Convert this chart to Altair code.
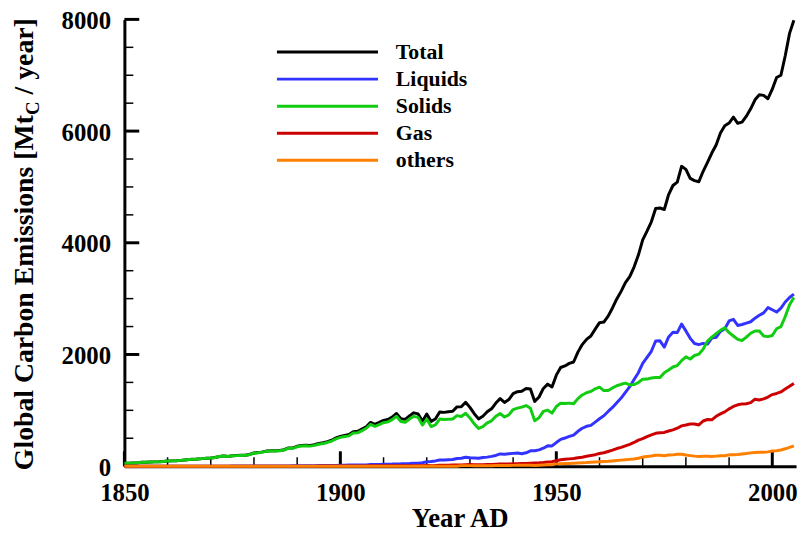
import altair as alt
import pandas as pd

years = list(range(1850, 2006))

total = [
    54, 54, 57, 59, 69, 71, 76, 77, 78, 83,
    91, 95, 97, 104, 112, 119, 122, 130, 135, 142,
    147, 156, 173, 184, 174, 188, 191, 194, 196, 210,
    236, 243, 256, 272, 275, 277, 281, 295, 327, 327,
    356, 372, 374, 370, 383, 406, 419, 440, 465, 507,
    534, 552, 566, 617, 624, 663, 707, 784, 750, 785,
    819, 836, 879, 943, 850, 838, 901, 955, 936, 806,
    932, 803, 845, 970, 963, 975, 983, 1062, 1065, 1145,
    1053, 940, 847, 893, 973, 1027, 1130, 1209, 1142, 1192,
    1299, 1334, 1342, 1391, 1383, 1160, 1238, 1392, 1469, 1419,
    1630, 1767, 1795, 1841, 1865, 2042, 2177, 2270, 2330, 2454,
    2569, 2580, 2686, 2833, 2995, 3130, 3288, 3393, 3566, 3780,
    4053, 4208, 4376, 4614, 4623, 4596, 4864, 5026, 5087, 5369,
    5315, 5152, 5113, 5094, 5280, 5439, 5607, 5752, 5965, 6097,
    6144, 6250, 6140, 6160, 6266, 6398, 6560, 6650, 6640, 6580,
    6750, 6960, 7000, 7350, 7750, 7985,
]

liquids = [
    0, 0, 0, 0, 0, 0, 0, 0, 0, 0,
    0, 0, 0, 0, 0, 0, 0, 0, 0, 0,
    1, 1, 1, 1, 1, 2, 2, 2, 2, 3,
    3, 4, 4, 3, 4, 4, 5, 5, 5, 6,
    8, 9, 9, 10, 9, 11, 12, 13, 13, 14,
    16, 18, 19, 20, 23, 23, 23, 28, 30, 32,
    34, 36, 37, 41, 42, 45, 48, 54, 53, 61,
    78, 84, 94, 111, 110, 116, 119, 136, 143, 160,
    152, 147, 141, 154, 162, 176, 192, 219, 214, 222,
    229, 236, 222, 239, 275, 275, 292, 322, 364, 362,
    423, 479, 504, 533, 557, 625, 679, 714, 731, 789,
    849, 904, 980, 1052, 1137, 1219, 1323, 1423, 1551, 1673,
    1839, 1947, 2057, 2241, 2245, 2132, 2314, 2398, 2392, 2544,
    2422, 2289, 2196, 2176, 2199, 2186, 2293, 2306, 2412, 2459,
    2600, 2630, 2520, 2537, 2562, 2586, 2650, 2701, 2745, 2840,
    2800, 2760, 2830, 2940, 3020, 3080,
]

solids = [
    54, 54, 57, 59, 69, 71, 76, 77, 78, 83,
    91, 95, 97, 104, 112, 119, 122, 130, 135, 142,
    146, 155, 172, 183, 173, 186, 189, 192, 194, 207,
    233, 239, 252, 269, 271, 272, 275, 289, 321, 320,
    347, 362, 364, 359, 373, 393, 405, 425, 450, 490,
    515, 530, 543, 593, 597, 635, 679, 750, 714, 746,
    778, 793, 834, 894, 800, 785, 844, 892, 874, 736,
    843, 709, 740, 844, 837, 842, 844, 905, 889, 948,
    863, 758, 675, 707, 775, 812, 893, 941, 880, 919,
    1014, 1039, 1057, 1086, 1039, 814, 868, 982, 1004, 950,
    1069, 1128, 1121, 1129, 1118, 1210, 1275, 1314, 1338, 1386,
    1415, 1354, 1356, 1401, 1440, 1466, 1486, 1456, 1461, 1498,
    1558, 1559, 1578, 1589, 1586, 1673, 1721, 1776, 1802, 1890,
    1957, 1919, 1982, 2005, 2096, 2240, 2310, 2373, 2432, 2479,
    2390, 2330, 2270, 2250, 2310, 2380, 2420, 2420, 2330, 2320,
    2340, 2460, 2500, 2680, 2890, 3020,
]

gas = [
    0, 0, 0, 0, 0, 0, 0, 0, 0, 0,
    0, 0, 0, 0, 0, 0, 0, 0, 0, 0,
    0, 0, 0, 0, 0, 0, 0, 0, 0, 0,
    0, 0, 0, 0, 0, 1, 1, 1, 1, 1,
    1, 1, 1, 1, 1, 2, 2, 2, 2, 3,
    3, 4, 4, 4, 4, 5, 5, 6, 6, 7,
    7, 7, 8, 8, 8, 8, 9, 9, 9, 9,
    11, 10, 11, 15, 16, 17, 20, 21, 23, 27,
    28, 25, 24, 25, 28, 30, 34, 38, 37, 38,
    42, 44, 47, 50, 54, 59, 61, 67, 76, 81,
    97, 115, 124, 131, 138, 150, 161, 178, 192, 206,
    227, 240, 263, 286, 316, 337, 364, 392, 424, 467,
    493, 530, 560, 588, 597, 604, 630, 650, 680, 721,
    737, 755, 755, 738, 809, 836, 830, 893, 936, 972,
    1026, 1069, 1099, 1115, 1119, 1137, 1199, 1186, 1206, 1238,
    1282, 1302, 1330, 1381, 1430, 1482,
]

others = [
    0, 0, 0, 0, 0, 0, 0, 0, 0, 0,
    0, 0, 0, 0, 0, 0, 0, 0, 0, 0,
    0, 0, 0, 0, 0, 0, 0, 0, 0, 0,
    0, 0, 0, 0, 0, 0, 0, 0, 0, 0,
    0, 0, 0, 0, 0, 0, 0, 0, 0, 0,
    0, 0, 0, 0, 0, 0, 0, 0, 0, 0,
    0, 0, 0, 0, 0, 0, 0, 0, 0, 0,
    0, 0, 0, 0, 0, 0, 0, 0, 10, 10,
    10, 8, 7, 7, 8, 9, 11, 11, 12, 13,
    14, 15, 16, 16, 15, 12, 17, 21, 25, 26,
    41, 45, 46, 48, 52, 57, 62, 64, 69, 73,
    78, 82, 87, 94, 102, 108, 115, 122, 130, 142,
    163, 172, 181, 196, 195, 187, 199, 202, 213, 214,
    199, 189, 180, 175, 176, 177, 174, 180, 185, 187,
    203, 205, 208, 218, 226, 238, 244, 249, 251, 256,
    271, 277, 290, 311, 336, 365,
]

series_names = ["Total", "Liquids", "Solids", "Gas", "others"]
series_values = [total, liquids, solids, gas, others]
series_colors = ["#000000", "#3333ff", "#11cc11", "#cc0000", "#ff8000"]

x_major = [1850, 1900, 1950, 2000]
x_minor = [1860, 1870, 1880, 1890, 1910, 1920, 1930, 1940, 1960, 1970, 1980, 1990]
y_major = [0, 2000, 4000, 6000, 8000]
y_minor = [500, 1000, 1500, 2500, 3000, 3500, 4500, 5000, 5500, 6500, 7000, 7500]

for s in series_values:
    assert len(s) == len(years), len(s)

FONT = "Liberation Serif"
W, H = 678, 451

xscale = alt.Scale(domain=[1850, 2005.5], nice=False, zero=False)
yscale = alt.Scale(domain=[0, 8000], nice=False)

xaxis = alt.Axis(values=x_major, format="d", title=None, grid=False, ticks=False, tickSize=0,
                 labelFont=FONT, labelFontWeight="bold", labelFontSize=25, labelColor="black",
                 labelPadding=15, labelFlush=False, labelOverlap=False,
                 domainColor="black", domainWidth=3)
yaxis = alt.Axis(values=y_major, format="d", title=None, grid=False, ticks=False, tickSize=0,
                 labelFont=FONT, labelFontWeight="bold", labelFontSize=25, labelColor="black",
                 labelPadding=14, labelOffset=1, labelFlush=False, labelOverlap=False,
                 domainColor="black", domainWidth=3)

layers = []

# inward ticks (drawn first, under the data lines)
xmaj = alt.Chart(pd.DataFrame({"year": x_major})).mark_rule(color="black", strokeWidth=3).encode(
    x=alt.X("year:Q", scale=xscale, axis=xaxis), y=alt.value(H), y2=alt.value(H - 15))
xmin = alt.Chart(pd.DataFrame({"year": x_minor})).mark_rule(color="black", strokeWidth=1.5).encode(
    x=alt.X("year:Q", scale=xscale, axis=xaxis), y=alt.value(H), y2=alt.value(H - 9))
ymaj = alt.Chart(pd.DataFrame({"value": y_major})).mark_rule(color="black", strokeWidth=3).encode(
    y=alt.Y("value:Q", scale=yscale, axis=yaxis), x=alt.value(0), x2=alt.value(15))
ymin = alt.Chart(pd.DataFrame({"value": y_minor})).mark_rule(color="black", strokeWidth=1.5).encode(
    y=alt.Y("value:Q", scale=yscale, axis=yaxis), x=alt.value(0), x2=alt.value(9))
layers += [xmaj, xmin, ymaj, ymin]

for name, vals, col in zip(series_names, series_values, series_colors):
    df = pd.DataFrame({"year": years, "value": vals})
    layers.append(
        alt.Chart(df).mark_line(color=col, strokeWidth=3, strokeJoin="round").encode(
            x=alt.X("year:Q", scale=xscale, axis=xaxis),
            y=alt.Y("value:Q", scale=yscale, axis=yaxis),
        )
    )

# legend
for i, (name, col) in enumerate(zip(series_names, series_colors)):
    ly = 33 + i * 27.3
    one = pd.DataFrame({"t": [name]})
    layers.append(alt.Chart(one).mark_rule(color=col, strokeWidth=3).encode(
        x=alt.value(154), x2=alt.value(256), y=alt.value(ly)))
    layers.append(alt.Chart(one).mark_text(font=FONT, fontWeight="bold", fontSize=22, color="black",
                                           align="left", baseline="alphabetic").encode(
        text="t:N", x=alt.value(274), y=alt.value(ly + 7)))

# axis titles
layers.append(alt.Chart(pd.DataFrame({"t": ["Year AD"]})).mark_text(
    font=FONT, fontWeight="bold", fontSize=27, color="black", align="center", baseline="alphabetic").encode(
    text="t:N", x=alt.value(W / 2), y=alt.value(512)))

ytitle_parts = [("Global Carbon Emissions [Mt", 28, -92, 455),
                ("C", 19, -86, 96.4),
                ("/ year]", 28, -92, 75.7)]
for txt, fs, xx, yy in ytitle_parts:
    layers.append(alt.Chart(pd.DataFrame({"t": [txt]})).mark_text(
        font=FONT, fontWeight="bold", fontSize=fs, color="black", align="left",
        baseline="alphabetic", angle=270).encode(
        text="t:N", x=alt.value(xx), y=alt.value(yy)))

chart = alt.layer(*layers).properties(
    width=W, height=H,
    autosize=alt.AutoSizeParams(type="none"),
    padding={"left": 117.5, "top": 9, "right": 4, "bottom": 70},
    background="white",
).configure_view(stroke=None)

chart.save("out.html", embed_options={"renderer": "svg", "actions": False})
